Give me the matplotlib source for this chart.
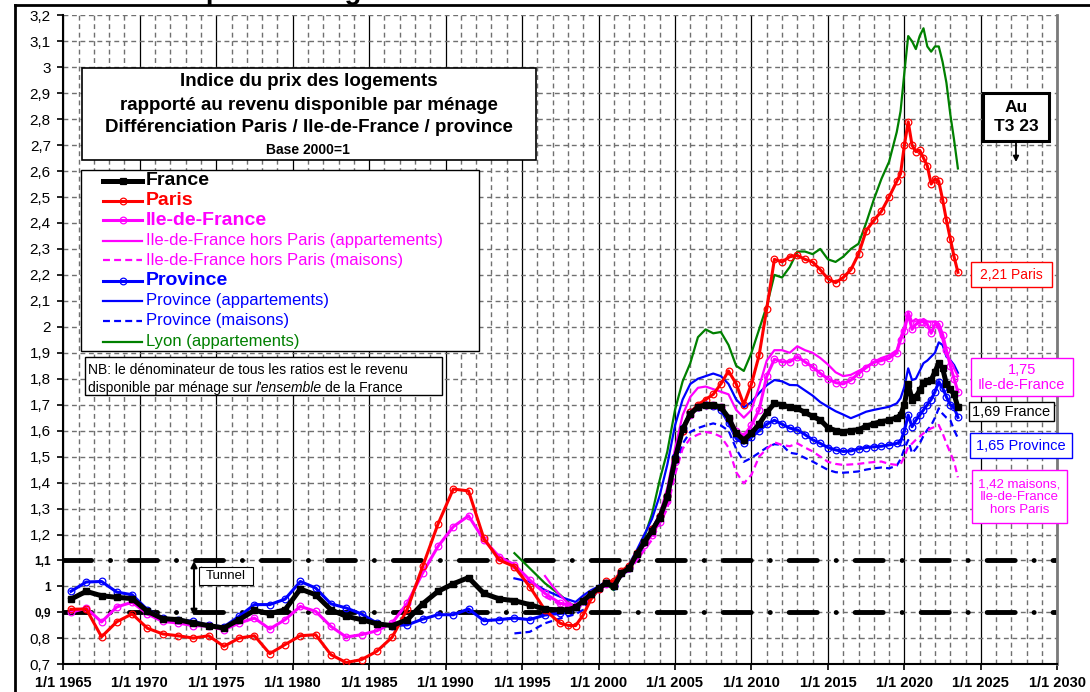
import matplotlib
matplotlib.use("Agg")
import matplotlib.pyplot as plt
from matplotlib.lines import Line2D
from matplotlib.patches import Rectangle, FancyArrowPatch
from matplotlib.ticker import MultipleLocator, FixedLocator, FuncFormatter
import numpy as np

# ---------------- data ----------------
YEARS_ANNUAL = np.arange(1965.5, 1998.0, 1.0)           # annual points (mid-year)
YEARS_Q = [1998.0 + 0.5 * i for i in range(44)] + [2019.75 + 0.25 * i for i in range(16)]

france_annual = [0.951, 0.981, 0.964, 0.958, 0.953, 0.904, 0.876, 0.872, 0.859, 0.849,
                 0.840, 0.872, 0.908, 0.895, 0.910, 0.990, 0.968, 0.910, 0.885, 0.872,
                 0.856, 0.849, 0.872, 0.933, 0.981, 1.010, 1.034, 0.973, 0.952, 0.945,
                 0.930, 0.912, 0.910]
paris_annual = [0.912, 0.913, 0.806, 0.864, 0.894, 0.839, 0.817, 0.810, 0.801, 0.810,
                0.769, 0.801, 0.810, 0.741, 0.776, 0.810, 0.814, 0.737, 0.707, 0.718,
                0.750, 0.804, 0.913, 1.077, 1.240, 1.375, 1.368, 1.185, 1.102, 1.076,
                0.999, 0.909, 0.858]
idf_annual = [0.900, 0.917, 0.863, 0.921, 0.939, 0.894, 0.865, 0.859, 0.849, 0.847,
              0.833, 0.859, 0.878, 0.836, 0.872, 0.923, 0.904, 0.846, 0.805, 0.814,
              0.829, 0.859, 0.936, 1.052, 1.154, 1.230, 1.272, 1.179, 1.115, 1.083,
              1.025, 0.973, 0.935]
province_annual = [0.981, 1.017, 1.019, 0.978, 0.968, 0.910, 0.878, 0.872, 0.865, 0.850,
                   0.844, 0.885, 0.930, 0.930, 0.951, 1.019, 0.994, 0.933, 0.917, 0.894,
                   0.859, 0.849, 0.852, 0.874, 0.891, 0.891, 0.913, 0.868, 0.872, 0.878,
                   0.872, 0.890, 0.896]

france_q = [0.91, 0.92, 0.945, 0.97, 0.993, 1.012, 1.00, 1.05, 1.07, 1.125,
            1.17, 1.215, 1.265, 1.345, 1.49, 1.605, 1.665, 1.69, 1.70, 1.70,
            1.69, 1.65, 1.59, 1.564, 1.59, 1.625, 1.67, 1.705, 1.70, 1.69,
            1.686, 1.67, 1.655, 1.641, 1.612, 1.60, 1.596, 1.60, 1.604, 1.617,
            1.627, 1.635, 1.64, 1.65,
            1.66, 1.70, 1.78, 1.72, 1.73, 1.755, 1.782, 1.79, 1.795, 1.827,
            1.86, 1.84, 1.78, 1.76, 1.74, 1.69]
paris_q = [0.85, 0.849, 0.89, 0.95, 0.99, 1.02, 1.02, 1.06, 1.08, 1.13,
           1.17, 1.22, 1.27, 1.35, 1.49, 1.60, 1.67, 1.70, 1.72, 1.74,
           1.78, 1.83, 1.78, 1.70, 1.78, 1.89, 2.07, 2.26, 2.25, 2.27,
           2.275, 2.26, 2.25, 2.22, 2.185, 2.17, 2.19, 2.22, 2.28, 2.37,
           2.41, 2.445, 2.50, 2.56,
           2.59, 2.70, 2.79, 2.70, 2.675, 2.68, 2.65, 2.62, 2.55, 2.57,
           2.56, 2.49, 2.41, 2.34, 2.27, 2.21]
idf_q = [0.93, 0.925, 0.945, 0.97, 0.99, 1.01, 1.005, 1.05, 1.07, 1.12,
         1.16, 1.20, 1.25, 1.33, 1.48, 1.60, 1.66, 1.69, 1.70, 1.70,
         1.69, 1.65, 1.60, 1.58, 1.62, 1.68, 1.81, 1.875, 1.865, 1.865,
         1.885, 1.865, 1.845, 1.821, 1.80, 1.785, 1.78, 1.795, 1.82, 1.843,
         1.863, 1.87, 1.879, 1.90,
         1.95, 1.985, 2.05, 1.99, 2.01, 2.02, 2.02, 2.01, 1.975, 2.01,
         2.01, 1.97, 1.91, 1.85, 1.80, 1.75]
province_q = [0.90, 0.92, 0.945, 0.97, 0.993, 1.012, 1.00, 1.05, 1.07, 1.125,
              1.17, 1.22, 1.27, 1.35, 1.50, 1.61, 1.67, 1.69, 1.70, 1.695,
              1.68, 1.63, 1.57, 1.551, 1.575, 1.60, 1.625, 1.64, 1.625, 1.61,
              1.603, 1.585, 1.565, 1.551, 1.535, 1.526, 1.52, 1.522, 1.53, 1.535,
              1.538, 1.54, 1.545, 1.551,
              1.557, 1.60, 1.66, 1.615, 1.64, 1.66, 1.68, 1.70, 1.72, 1.75,
              1.789, 1.765, 1.73, 1.70, 1.69, 1.651]

idf_appt_early_years = [1996.5, 1997.0, 1997.5]
idf_appt_early = [1.04, 1.00, 0.965]
idf_appt_q = [0.935, 0.92, 0.945, 0.97, 0.99, 1.01, 1.00, 1.05, 1.075, 1.125,
              1.17, 1.22, 1.28, 1.38, 1.53, 1.66, 1.73, 1.765, 1.77, 1.76,
              1.75, 1.74, 1.68, 1.65, 1.68, 1.77, 1.87, 1.91, 1.91, 1.90,
              1.925, 1.91, 1.90, 1.88, 1.855, 1.825, 1.81, 1.815, 1.83, 1.846,
              1.865, 1.88, 1.89, 1.91,
              1.96, 2.00, 2.058, 2.02, 2.03, 2.02, 2.03, 2.02, 2.02, 2.02,
              1.99, 1.95, 1.89, 1.87, 1.84, 1.81]

idf_mais_early_years = [1996.5, 1997.5]
idf_mais_early = [0.96, 0.93]
idf_mais_q = [0.92, 0.91, 0.93, 0.96, 0.985, 1.005, 1.00, 1.04, 1.06, 1.10,
              1.14, 1.18, 1.24, 1.30, 1.43, 1.53, 1.57, 1.585, 1.595, 1.59,
              1.577, 1.535, 1.44, 1.397, 1.43, 1.50, 1.53, 1.555, 1.545, 1.54,
              1.551, 1.535, 1.52, 1.50, 1.48, 1.472, 1.468, 1.47, 1.472, 1.476,
              1.479, 1.481, 1.472, 1.468,
              1.47, 1.50, 1.538, 1.55, 1.565, 1.577, 1.59, 1.60, 1.609, 1.615,
              1.622, 1.59, 1.551, 1.515, 1.48, 1.42]

prov_appt_early_years = [1994.5, 1995.5, 1996.5, 1997.5]
prov_appt_early = [1.031, 1.018, 0.986, 0.96]
prov_appt_q = [0.95, 0.94, 0.965, 0.985, 1.00, 1.02, 1.01, 1.055, 1.085, 1.14,
               1.20, 1.26, 1.35, 1.47, 1.62, 1.72, 1.78, 1.80, 1.81, 1.82,
               1.81, 1.78, 1.72, 1.69, 1.71, 1.745, 1.775, 1.795, 1.79, 1.776,
               1.775, 1.755, 1.735, 1.71, 1.692, 1.675, 1.662, 1.648, 1.66, 1.673,
               1.68, 1.686, 1.692, 1.705,
               1.725, 1.769, 1.84, 1.795, 1.80, 1.83, 1.86, 1.87, 1.885, 1.90,
               1.94, 1.93, 1.885, 1.872, 1.853, 1.823]

prov_mais_early_years = [1994.5, 1995.5, 1996.5, 1997.5]
prov_mais_early = [0.819, 0.825, 0.858, 0.877]
prov_mais_q = [0.885, 0.893, 0.91, 0.95, 0.985, 1.005, 1.00, 1.04, 1.065, 1.11,
               1.155, 1.20, 1.25, 1.33, 1.45, 1.55, 1.595, 1.61, 1.62, 1.628,
               1.62, 1.60, 1.53, 1.48, 1.495, 1.515, 1.535, 1.548, 1.545, 1.515,
               1.51, 1.495, 1.481, 1.465, 1.449, 1.44, 1.438, 1.44, 1.443, 1.45,
               1.455, 1.458, 1.455, 1.465,
               1.49, 1.53, 1.564, 1.513, 1.53, 1.551, 1.58, 1.603, 1.62, 1.65,
               1.686, 1.665, 1.65, 1.641, 1.603, 1.571]

lyon_early_years = [1994.5, 1995.5, 1996.5, 1997.5]
lyon_early = [1.128, 1.07, 1.012, 0.967]
lyon_q = [0.94, 0.922, 0.95, 0.975, 0.995, 1.01, 0.985, 1.045, 1.07, 1.13,
          1.19, 1.28, 1.41, 1.52, 1.68, 1.79, 1.86, 1.96, 1.99, 1.975,
          1.98, 1.93, 1.85, 1.83, 1.90, 1.99, 2.08, 2.20, 2.19, 2.23,
          2.29, 2.29, 2.28, 2.30, 2.26, 2.25, 2.27, 2.30, 2.32, 2.40,
          2.49, 2.57, 2.636, 2.75,
          2.83, 2.98, 3.12, 3.10, 3.07, 3.12, 3.15, 3.08, 3.06, 3.08,
          3.08, 3.02, 2.94, 2.82, 2.72, 2.61]

TUNNEL_LEVELS = [0.9, 1.1]
Y_TICKS = [0.7, 0.8, 0.9, 1.0, 1.1, 1.2, 1.3, 1.4, 1.5, 1.6, 1.7, 1.8, 1.9, 2.0,
           2.1, 2.2, 2.3, 2.4, 2.5, 2.6, 2.7, 2.8, 2.9, 3.0, 3.1, 3.2]

# ---------------- styling ----------------
plt.rcParams['font.family'] = ['Liberation Sans', 'DejaVu Sans']
plt.rcParams['lines.scale_dashes'] = False

RED = '#FF0000'
MAG = '#FF00FF'
BLUE = '#0000FF'
GREEN = '#008000'

W, H = 1090, 692
fig = plt.figure(figsize=(W / 100, H / 100), dpi=100)
fig.patch.set_facecolor('white')

X0, X1, Y0, Y1 = 63.3, 1057.3, 15.3, 664.3
ax = fig.add_axes([X0 / W, 1 - Y1 / H, (X1 - X0) / W, (Y1 - Y0) / H])
ax.set_xlim(1965, 2030)
ax.set_ylim(0.7, 3.2)


def fxy(x, y):
    return (x / W, 1 - y / H)


def box(x0, y0, x1, y1, ec='black', lw=1.0, fc='white', z=5):
    r = Rectangle((x0 / W, 1 - y1 / H), (x1 - x0) / W, (y1 - y0) / H,
                  transform=fig.transFigure, fc=fc, ec=ec, lw=lw, zorder=z)
    fig.add_artist(r)


def ftext(x, y, s, **kw):
    kw.setdefault('zorder', 6)
    return fig.text(x / W, 1 - y / H, s, **kw)


# grid
ax.xaxis.set_major_locator(MultipleLocator(5))
ax.xaxis.set_minor_locator(MultipleLocator(1))
ax.yaxis.set_major_locator(FixedLocator(Y_TICKS))
GRID_GRAY = '#707070'
ax.grid(which='major', axis='x', color='black', lw=0.9, ls='-')
ax.grid(which='minor', axis='x', color=GRID_GRAY, lw=1.0, ls=(0, (3.5, 2.6)))
ax.grid(which='major', axis='y', color=GRID_GRAY, lw=1.0, ls=(0, (3.5, 2.6)))
ax.set_axisbelow(True)

ax.spines['top'].set_visible(False)
ax.spines['right'].set_color('#7a7a7a')
ax.spines['right'].set_linewidth(2.0)
ax.spines['left'].set_linewidth(1.5)
ax.spines['bottom'].set_linewidth(1.5)

ax.xaxis.set_major_formatter(FuncFormatter(lambda v, p: f"1/1 {int(round(v))}"))


def yfmt(v, p):
    s = f"{v:.1f}".replace('.', ',')
    if s.endswith(',0'):
        s = s[:-2]
    return s


ax.yaxis.set_major_formatter(FuncFormatter(yfmt))
ax.tick_params(axis='x', which='minor', length=0)
ax.tick_params(axis='x', which='major', length=4, width=1.2, pad=4.5, labelsize=10.5)
ax.tick_params(axis='y', which='major', length=4, width=1.2, pad=5, labelsize=11)
for lbl in ax.get_xticklabels():
    lbl.set_fontweight('bold')
fig.canvas.draw()
for lbl, v in zip(ax.get_yticklabels(), Y_TICKS):
    if abs(v - 0.9) < 1e-6 or abs(v - 1.0) < 1e-6 or abs(v - 1.1) < 1e-6:
        lbl.set_fontweight('bold')
        lbl.set_fontsize(8.5)

# tunnel lines
for lev in TUNNEL_LEVELS:
    ax.plot([1965, 2030], [lev, lev], color='black', lw=3.5,
            ls=(0, (20.2, 13.6, 0.1, 13.6)), dash_capstyle='round', zorder=2)

# series
def cat(a, b):
    return list(a) + list(b)

ax.plot(cat(lyon_early_years, YEARS_Q), cat(lyon_early, lyon_q), color=GREEN, lw=1.6, zorder=3)
ax.plot(cat(prov_mais_early_years, YEARS_Q), cat(prov_mais_early, prov_mais_q), color=BLUE, lw=1.6,
        ls=(0, (5, 3)), zorder=3)
ax.plot(cat(idf_mais_early_years, YEARS_Q), cat(idf_mais_early, idf_mais_q), color=MAG, lw=1.6,
        ls=(0, (5, 3)), zorder=3)
ax.plot(cat(prov_appt_early_years, YEARS_Q), cat(prov_appt_early, prov_appt_q), color=BLUE, lw=1.6, zorder=3)
ax.plot(cat(idf_appt_early_years, YEARS_Q), cat(idf_appt_early, idf_appt_q), color=MAG, lw=1.6, zorder=3)

mk = dict(marker='o', markersize=4.8, markerfacecolor='none', markeredgewidth=0.9)
ax.plot(cat(YEARS_ANNUAL, YEARS_Q), cat(province_annual, province_q), color=BLUE, lw=2.2, zorder=4, **mk)
ax.plot(cat(YEARS_ANNUAL, YEARS_Q), cat(idf_annual, idf_q), color=MAG, lw=2.2, zorder=4, **mk)
ax.plot(cat(YEARS_ANNUAL, YEARS_Q), cat(paris_annual, paris_q), color=RED, lw=2.2, zorder=4, **mk)
ax.plot(cat(YEARS_ANNUAL, YEARS_Q), cat(france_annual, france_q), color='black', lw=3.6, zorder=4,
        marker='s', markersize=4.2)

# ---------------- annotations ----------------
# partially visible heading at the very top (cut by the image edge, as in the source)
ftext(76, -1, "Indice du prix des logements", fontsize=20, fontweight='bold', va='baseline', ha='left')

# outer frame
fig.add_artist(Line2D([15 / W, 1.0], [1 - 5 / H, 1 - 5 / H], transform=fig.transFigure,
                      color='black', lw=2.0, zorder=10))
fig.add_artist(Line2D([15 / W, 15 / W], [0, 1 - 5 / H], transform=fig.transFigure,
                      color='black', lw=2.0, zorder=10))

# title box
box(82, 68, 536, 160, lw=1.2)
ftext(309, 82, "Indice du prix des logements", fontsize=13.5, fontweight='bold', ha='center', va='center')
ftext(309, 105, "rapporté au revenu disponible par ménage", fontsize=13.5, fontweight='bold',
      ha='center', va='center')
ftext(309, 128, "Différenciation Paris / Ile-de-France / province", fontsize=13.5, fontweight='bold',
      ha='center', va='center')
ftext(308, 150, "Base 2000=1", fontsize=10, fontweight='bold', ha='center', va='center')

# legend box
box(80.7, 170, 479, 350.7, lw=1.0)
legend_rows = [
    ("France", 'black', dict(lw=3.6), dict(marker='s', markersize=4.2), 'bold', 14),
    ("Paris", RED, dict(lw=2.2), dict(marker='o', markersize=4.8, markerfacecolor='none'), 'bold', 14),
    ("Ile-de-France", MAG, dict(lw=2.2), dict(marker='o', markersize=4.8, markerfacecolor='none'), 'bold', 14),
    ("Ile-de-France hors Paris (appartements)", MAG, dict(lw=1.6), None, 'normal', 12),
    ("Ile-de-France hors Paris (maisons)", MAG, dict(lw=1.6, ls=(0, (5, 3))), None, 'normal', 12),
    ("Province", BLUE, dict(lw=2.2), dict(marker='o', markersize=4.8, markerfacecolor='none'), 'bold', 14),
    ("Province (appartements)", BLUE, dict(lw=1.6), None, 'normal', 12),
    ("Province (maisons)", BLUE, dict(lw=1.6, ls=(0, (5, 3))), None, 'normal', 12),
    ("Lyon (appartements)", GREEN, dict(lw=1.6), None, 'normal', 12),
]
row_y = [180.7, 200.7, 220.3, 240.6, 260.3, 280.5, 301.0, 321.0, 341.5]
for (label, col, lstyle, mstyle, wt, fs), yy in zip(legend_rows, row_y):
    fig.add_artist(Line2D([103 / W, 142 / W], [1 - yy / H, 1 - yy / H], transform=fig.transFigure,
                          color=col, zorder=6, **lstyle))
    if mstyle:
        fig.add_artist(Line2D([122.5 / W], [1 - yy / H], transform=fig.transFigure, color=col,
                              ls='none', markeredgewidth=0.9, zorder=7, **mstyle))
    ftext(146, yy, label, color=col, fontsize=fs, fontweight=wt, ha='left', va='center')

# NB box
box(85, 356.7, 442, 395, lw=1.0)
ftext(88, 374.5, "NB: le dénominateur de tous les ratios est le revenu", fontsize=10, ha='left', va='baseline')
nb_y = 392
t1 = ftext(88, nb_y, "disponible par ménage sur", fontsize=10, ha='left', va='baseline')
renderer = fig.canvas.get_renderer()
bb1 = t1.get_window_extent(renderer)
t2 = fig.text((bb1.x1 + 3.5) / W, 1 - nb_y / H, "l'ensemble", fontsize=10, fontstyle='italic',
              ha='left', va='baseline', zorder=6)
bb2 = t2.get_window_extent(renderer)
fig.text((bb2.x1 + 3.5) / W, 1 - nb_y / H, "de la France", fontsize=10, ha='left', va='baseline', zorder=6)

# tunnel
box(199, 566.7, 253, 585, lw=0.8)
ftext(226, 576, "Tunnel", fontsize=9.5, ha='center', va='center')
fig.add_artist(FancyArrowPatch(fxy(194, 561), fxy(194, 616), transform=fig.transFigure,
                               arrowstyle='<|-|>', mutation_scale=9, color='black', lw=1.5, zorder=6,
                               shrinkA=0, shrinkB=0))

# "Au T3 23"
box(983, 93, 1049, 140.7, lw=2.2)
ftext(1016, 117, "Au\nT3 23", fontsize=12.5, fontweight='bold', ha='center', va='center', linespacing=1.3)
fig.add_artist(FancyArrowPatch(fxy(1016, 141), fxy(1016, 162), transform=fig.transFigure,
                               arrowstyle='-|>', mutation_scale=8, color='black', lw=1.3, zorder=6,
                               shrinkA=0, shrinkB=0))

# value labels
box(970.7, 262, 1051.7, 287, ec=RED, lw=1.0)
ftext(1011, 275, "2,21 Paris", color=RED, fontsize=10, ha='center', va='center')
box(970.7, 358, 1072.7, 396, ec=MAG, lw=1.0)
ftext(1021.7, 377.5, "1,75\nIle-de-France", color=MAG, fontsize=10.5, ha='center', va='center',
      linespacing=1.15)
box(969, 401.7, 1054, 420.7, ec='black', lw=1.0)
ftext(1011.5, 411.5, "1,69 France", color='black', fontsize=10.5, ha='center', va='center')
box(970, 432.7, 1071.7, 458.3, ec=BLUE, lw=1.0)
ftext(1021, 445.5, "1,65 Province", color=BLUE, fontsize=10.5, ha='center', va='center')
box(971.7, 470, 1067, 523, ec=MAG, lw=1.0)
ftext(1019.3, 497.5, "1,42 maisons,\nIle-de-France\nhors Paris", color=MAG, fontsize=9.5,
      ha='center', va='center', linespacing=1.1)

fig.savefig("out.png", dpi=100)
